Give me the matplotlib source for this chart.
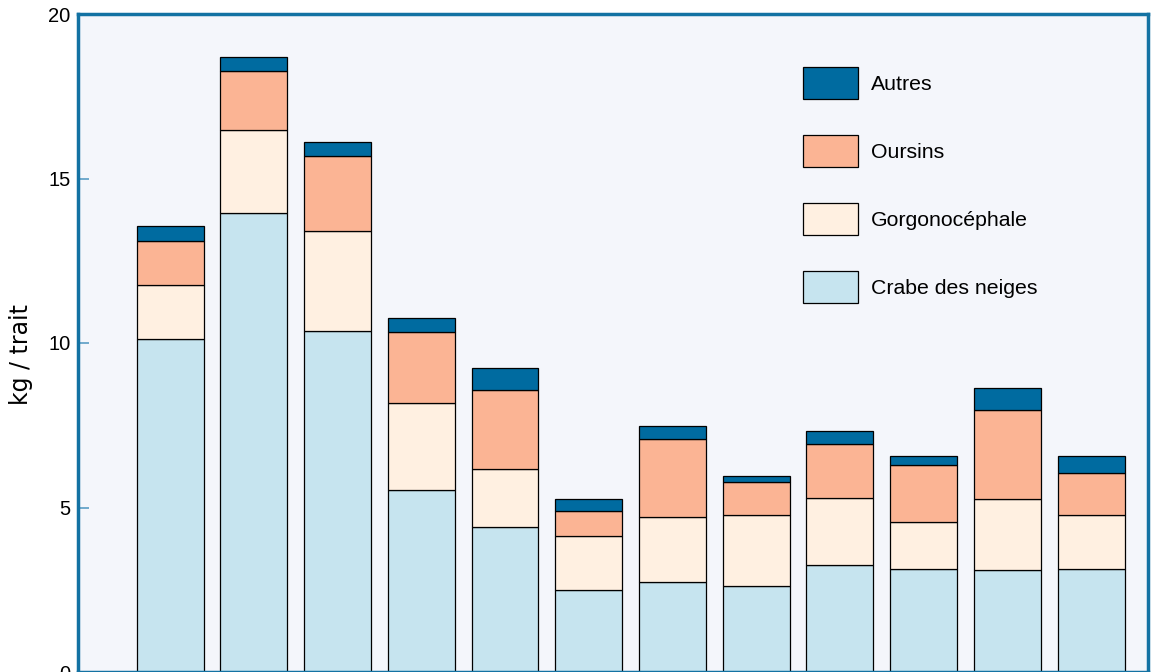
import matplotlib.pyplot as plt
import numpy as np

plt.rcParams['font.family'] = ['Liberation Sans', 'DejaVu Sans']

# stacked values (kg / trait), one per bar
crabe = [10.12, 13.95, 10.36, 5.53, 4.41, 2.49, 2.74, 2.61, 3.25, 3.13, 3.10, 3.13]
gorgo = [1.64, 2.52, 3.04, 2.65, 1.76, 1.64, 1.97, 2.16, 2.04, 1.43, 2.16, 1.64]
oursins = [1.34, 1.80, 2.28, 2.15, 2.40, 0.76, 2.37, 1.01, 1.64, 1.73, 2.70, 1.28]
autres = [0.46, 0.42, 0.43, 0.43, 0.67, 0.37, 0.40, 0.18, 0.40, 0.28, 0.67, 0.52]

labels = ['Crabe des neiges', 'Gorgonocéphale', 'Oursins', 'Autres']
colors = ['#c6e4ef', '#fff0e1', '#fbb494', '#006ba0']
yticks = [0, 5, 10, 15, 20]

fig = plt.figure(figsize=(11.6, 6.72), dpi=100)
ax = fig.add_axes([78 / 1160, 0, (1148 - 78) / 1160, (672 - 14) / 672])
ax.set_facecolor('#f4f6fb')

x = np.arange(len(crabe))
bottom = np.zeros(len(crabe))
bars = []
for vals, lab, col in zip([crabe, gorgo, oursins, autres], labels, colors):
    b = ax.bar(x, vals, 0.8, bottom=bottom, color=col, edgecolor='black',
               linewidth=0.9, label=lab)
    bars.append(b)
    bottom = bottom + np.array(vals)

ax.set_xlim(-1.1, 11.68)
ax.set_ylim(0, 20)
ax.set_yticks(yticks)
ax.set_xticks([])
ax.tick_params(axis='y', direction='in', length=8, width=1.2, color='#5a9cc4',
               labelsize=14.5, pad=5.5)
for s in ax.spines.values():
    s.set_color('#1372a3')
    s.set_linewidth(2.5)
ax.set_ylabel('kg / trait', fontsize=17, family=['DejaVu Sans'])
ax.yaxis.set_label_coords(-0.042, 0.482)

# legend, top entry = Autres
ax.legend(bars[::-1], labels[::-1], loc='upper left', frameon=False,
          bbox_to_anchor=(803 / 1160, 1 - 67 / 672), bbox_transform=fig.transFigure,
          fontsize=15.3, handlelength=2.59, handleheight=1.94, labelspacing=1.69,
          handletextpad=0.61, borderpad=0, borderaxespad=0)

fig.savefig('out.png', dpi=100)
